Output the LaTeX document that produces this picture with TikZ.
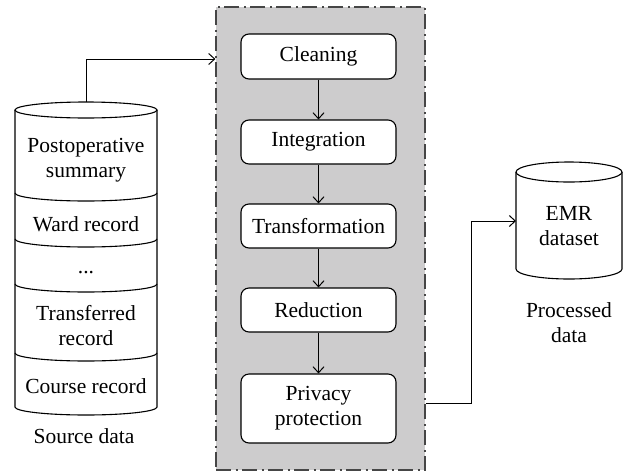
\documentclass[tikz,border=0pt]{standalone}
\usepackage{fontspec}
\setmainfont{Liberation Serif}
\usetikzlibrary{arrows.meta}
\definecolor{panel}{RGB}{205,204,205}
\definecolor{panelline}{RGB}{70,70,70}
\begin{document}
\begin{tikzpicture}[x=1pt,y=-1pt,
  txt/.style={font=\fontsize{21.5}{25}\selectfont, align=center, inner sep=0pt},
  stepbox/.style={draw, rounded corners=8pt, line width=1.1pt, fill=white,
    minimum width=155pt, inner sep=0pt, align=center,
    font=\fontsize{21.5}{25}\selectfont},
  link/.style={line width=1pt, -{Straight Barb[length=6pt,width=11pt,line width=1pt]}},
  cyl/.style={line width=1.1pt, fill=white}]
\useasboundingbox (0,0) rectangle (637,472);

% processing panel
\node[fill=panel, draw=panelline, line width=1.2pt,
  dash pattern=on 15pt off 4.5pt on 2pt off 4.5pt,
  minimum width=209pt, minimum height=463pt, inner sep=0pt] (proc) at (320.5,238.5) {};

\node[stepbox, minimum height=45pt] (clean) at (318.5,56.5) {Cleaning};
\node[stepbox, minimum height=44pt] (integ) at (318.5,142) {Integration};
\node[stepbox, minimum height=44pt] (trans) at (318.5,226) {Transformation};
\node[stepbox, minimum height=44pt] (reduc) at (318.5,310) {Reduction};
\node[stepbox, minimum height=69pt] (priv) at (318.5,408.5) {Privacy\\protection};

\draw[link] (clean) -- (integ);
\draw[link] (integ) -- (trans);
\draw[link] (trans) -- (reduc);
\draw[link] (reduc) -- (priv);

% source cylinder
\draw[cyl] (15,110) -- (15,407) arc[start angle=180,end angle=0,x radius=71,y radius=8] -- (157,110);
\draw[cyl] (86,110) ellipse [x radius=71, y radius=8];
\foreach \yy in {193,239,284,353}
  \draw[line width=1.1pt] (15,\yy) arc[start angle=180,end angle=0,x radius=71,y radius=8];

\node[txt] (postop) at (86,160.5) {Postoperative\\summary};
\node[txt] (ward) at (86,224) {Ward record};
\node[txt, anchor=base] (dots) at (86,273) {...};
\node[txt] (transf) at (86,326) {Transferred\\record};
\node[txt] (course) at (86,386) {Course record};
\node[txt] (srclbl) at (84,436) {Source data};

% EMR cylinder
\draw[cyl] (516,172) -- (516,269) arc[start angle=180,end angle=0,x radius=53,y radius=10] -- (622,172);
\draw[cyl] (569,172) ellipse [x radius=53, y radius=10];
\node[txt] (emr) at (569,226) {EMR\\dataset};
\node[txt] (proclbl) at (569,323) {Processed\\data};

% connectors
\coordinate (srctop) at (86,102);
\coordinate (y59) at (0,59);
\coordinate (procin) at (proc.west |- y59);
\draw[link] (srctop) |- (procin);

\coordinate (y403) at (0,403);
\coordinate (procout) at (proc.east |- y403);
\coordinate (bend) at (471,403);
\coordinate (emrin) at (516,221);
\draw[link] (procout) -- (bend) |- (emrin);
\end{tikzpicture}
\end{document}
